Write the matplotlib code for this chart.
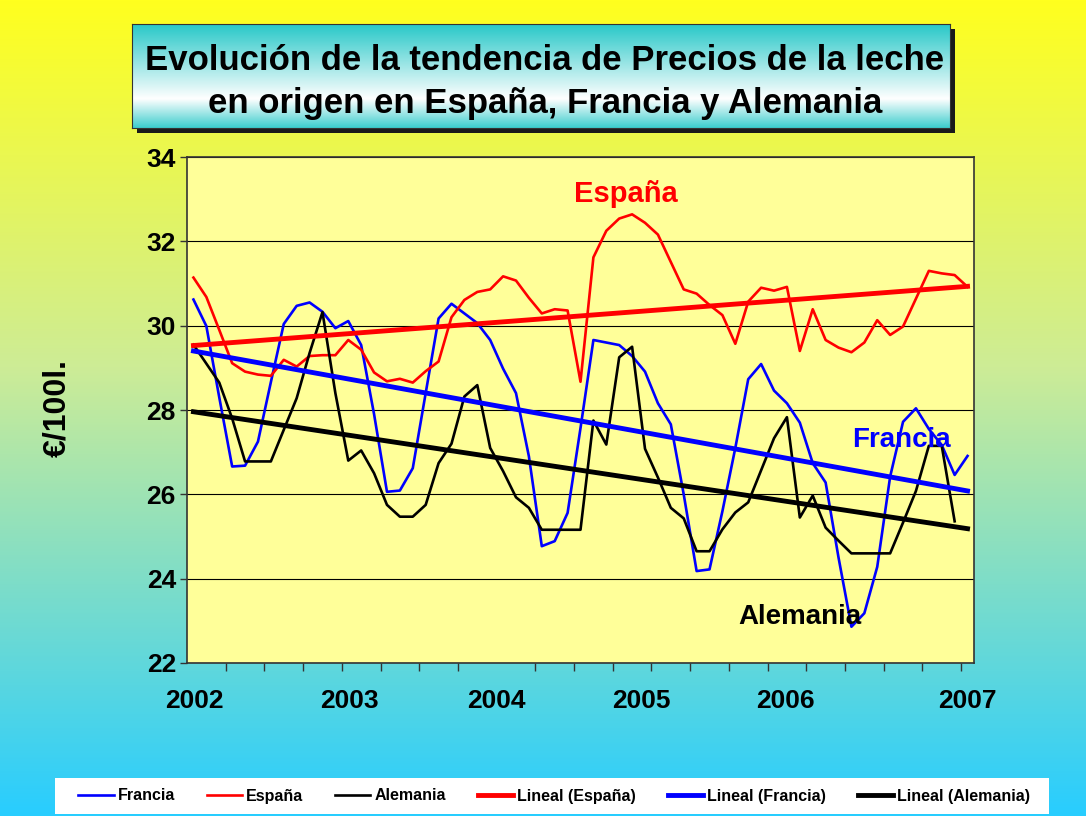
import numpy as np
import matplotlib
matplotlib.use("Agg")
import matplotlib.pyplot as plt
from matplotlib.patches import Rectangle

plt.rcParams["font.family"] = ["Liberation Sans", "DejaVu Sans"]
plt.rcParams["font.weight"] = "bold"
plt.rcParams["axes.labelweight"] = "bold"

# Datos: precio mensual (EUR/100 l), enero 2002 .. enero 2007
anios = ["2002", "2003", "2004", "2005", "2006", "2007"]
pos_anios = [0.1, 12.1, 23.5, 34.7, 45.9, 60.0]  # donde caen las etiquetas en el original

francia = [30.62, 29.99, 28.30, 26.66, 26.68, 27.25, 28.66, 30.04, 30.47, 30.55,
           30.33, 29.94, 30.11, 29.54, 27.90, 26.06, 26.09, 26.62, 28.40, 30.17,
           30.52, 30.29, 30.06, 29.66, 28.98, 28.40, 26.90, 24.77, 24.89, 25.56,
           27.57, 29.66, 29.60, 29.54, 29.28, 28.91, 28.16, 27.66, 26.00, 24.18,
           24.22, 25.60, 27.10, 28.73, 29.09, 28.46, 28.16, 27.70, 26.74, 26.28,
           24.50, 22.86, 23.18, 24.28, 26.42, 27.72, 28.04, 27.55, 27.17, 26.46,
           26.91]

espana = [31.14, 30.68, 29.90, 29.11, 28.91, 28.84, 28.81, 29.19, 29.03, 29.28,
          29.30, 29.30, 29.66, 29.43, 28.89, 28.68, 28.74, 28.65, 28.92, 29.15,
          30.20, 30.61, 30.80, 30.86, 31.17, 31.07, 30.66, 30.29, 30.39, 30.36,
          28.67, 31.62, 32.25, 32.54, 32.64, 32.44, 32.16, 31.51, 30.86, 30.76,
          30.49, 30.25, 29.57, 30.57, 30.90, 30.83, 30.92, 29.40, 30.39, 29.66,
          29.48, 29.37, 29.60, 30.13, 29.78, 29.98, 30.64, 31.30, 31.24, 31.20,
          30.92]

alemania = [29.55, 29.10, 28.65, 27.80, 26.78, 26.78, 26.78, 27.53, 28.28, 29.35,
            30.32, 28.40, 26.80, 27.04, 26.50, 25.75, 25.47, 25.47, 25.75, 26.74,
            27.20, 28.32, 28.59, 27.10, 26.55, 25.93, 25.68, 25.16, 25.16, 25.16,
            25.16, 27.75, 27.18, 29.25, 29.50, 27.08, 26.40, 25.68, 25.43, 24.65,
            24.65, 25.17, 25.57, 25.81, 26.57, 27.33, 27.83, 25.45, 25.97, 25.21,
            24.90, 24.60, 24.60, 24.60, 24.60, 25.33, 26.08, 27.15, 27.15, 25.36]

meses = np.arange(len(espana))

W, H = 1086, 816
fig = plt.figure(figsize=(W / 100, H / 100), dpi=100)


def fx(px):
    return px / W


def fy(py):
    return 1 - py / H


# Fondo degradado amarillo -> celeste
bg = fig.add_axes([0, 0, 1, 1], zorder=-10)
t = np.linspace(0, 1, 400)
stops_t = [0.0, 0.45, 1.0]
stops_c = np.array([[255, 255, 30], [205, 236, 150], [40, 205, 255]]) / 255
grad = np.stack([np.interp(t, stops_t, stops_c[:, k]) for k in range(3)], axis=1)
bg.imshow(grad[:, None, :], aspect="auto", extent=[0, 1, 0, 1])
bg.set_axis_off()

# Caja del título con sombra
bx0, bx1, by0, by1 = 132, 950, 24, 128
fig.patches.append(Rectangle((fx(bx0 + 5), fy(by1 + 5)), fx(bx1 - bx0), (by1 - by0) / H,
                             transform=fig.transFigure, facecolor="#1a1a1a",
                             edgecolor="none", zorder=-5))
tb = fig.add_axes([fx(bx0), fy(by1), fx(bx1 - bx0), (by1 - by0) / H], zorder=-4)
tt = np.linspace(0, 1, 200)
tc = np.array([[40, 200, 200], [255, 255, 255], [60, 205, 205]]) / 255
tgrad = np.stack([np.interp(tt, [0.0, 0.72, 1.0], tc[:, k]) for k in range(3)], axis=1)
tb.imshow(tgrad[:, None, :], aspect="auto", extent=[0, 1, 0, 1])
tb.set_xticks([])
tb.set_yticks([])
for s in tb.spines.values():
    s.set_color("#333333")
    s.set_linewidth(0.8)

fig.text(fx(545), fy(60), "Evolución de la tendencia de Precios de la leche",
         ha="center", va="center", fontsize=25, fontweight="bold")
fig.text(fx(545), fy(103), "en origen en España, Francia y Alemania",
         ha="center", va="center", fontsize=25, fontweight="bold")

# Gráfico principal
ax = fig.add_axes([fx(187), fy(663), fx(974 - 187), (663 - 157) / H])
ax.set_facecolor("#FFFF99")
ax.set_xlim(-0.5, 60.5)
ax.set_ylim(22, 34)
ax.set_yticks(range(22, 35, 2))
ax.yaxis.grid(True, color="black", linewidth=0.8)
ax.set_axisbelow(True)

ax.set_xticks(pos_anios)
ax.set_xticklabels(anios)
ax.set_xticks(np.arange(2.5, 60, 3), minor=True)
ax.tick_params(axis="x", which="major", length=0, pad=19, labelsize=19)
ax.tick_params(axis="x", which="minor", length=6, width=1, direction="out", color="#333333")
ax.tick_params(axis="y", length=5, width=1, direction="out", color="#333333",
               pad=3, labelsize=19)
for s in ax.spines.values():
    s.set_color("#333333")
    s.set_linewidth(1.2)

lw_fino, lw_grueso = 1.9, 3.5
ax.plot(meses[:len(francia)], francia, color="#0000FF", lw=lw_fino, label="Francia")
ax.plot(meses[:len(espana)], espana, color="#FF0000", lw=lw_fino, label="España")
ax.plot(meses[:len(alemania)], alemania, color="black", lw=lw_fino, label="Alemania")

# Tendencias lineales (como la línea de tendencia de Excel)
for serie, color, nombre in [(espana, "#FF0000", "Lineal (España)"),
                             (francia, "#0000FF", "Lineal (Francia)"),
                             (alemania, "black", "Lineal (Alemania)")]:
    coef = np.polyfit(meses[:len(serie)], serie, 1)
    ax.plot(meses, np.polyval(coef, meses), color=color, lw=lw_grueso, label=nombre)

ax.text(33.5, 33.13, "España", color="#FF0000", fontsize=21, fontweight="bold",
        ha="center", va="center")
ax.text(54.9, 27.30, "Francia", color="#0000FF", fontsize=20, fontweight="bold",
        ha="center", va="center")
ax.text(47.0, 23.10, "Alemania", color="black", fontsize=20, fontweight="bold",
        ha="center", va="center")

ax.set_ylabel("€/100l.", fontsize=23, fontweight="bold")
ax.yaxis.set_label_coords((72 - 187) / (974 - 187), (663 - 408) / (663 - 157))

# Leyenda en caja blanca
fig.patches.append(Rectangle((fx(55), fy(814)), fx(1049 - 55), (814 - 778) / H,
                             transform=fig.transFigure, facecolor="white",
                             edgecolor="none", zorder=1))
handles, labels = ax.get_legend_handles_labels()
leg = fig.legend(handles, labels, loc="center", bbox_to_anchor=(fx(554), fy(796)),
                 ncol=6, frameon=False, fontsize=11.5, handlelength=2.2,
                 handletextpad=0.25, columnspacing=2.0)
leg.set_zorder(2)

fig.savefig("out.png", dpi=100)
